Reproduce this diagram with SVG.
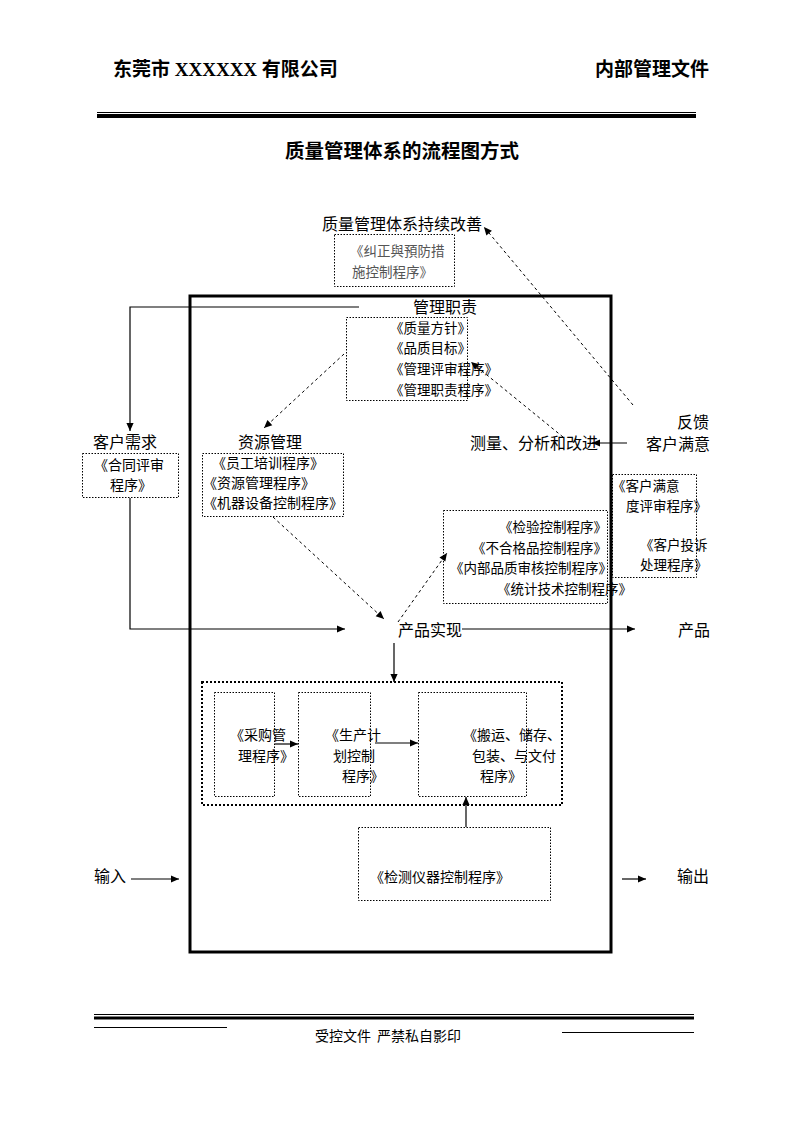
<svg xmlns="http://www.w3.org/2000/svg" width="794" height="1123" viewBox="0 0 794 1123">
<style>
text{font-family:"Noto Sans CJK SC","Liberation Sans",sans-serif;fill:#000}
.hd{font-family:"Liberation Serif","Noto Sans CJK SC",serif;font-weight:bold;font-size:19px}
.t16{font-size:16px}
.t14{font-size:14px}
.t135{font-size:13.5px}
.gray{fill:#555}
.dot{fill:none;stroke:#000;stroke-width:1;stroke-dasharray:1.5 1.5}
.dot2{fill:none;stroke:#000;stroke-width:2;stroke-dasharray:2 2}
.ln{fill:none;stroke:#000;stroke-width:1.2}
.dash{fill:none;stroke:#000;stroke-width:1;stroke-dasharray:3 3}
</style>
<defs>
<marker id="ah" viewBox="0 0 10 10" refX="10" refY="5" markerWidth="9" markerHeight="8" orient="auto" markerUnits="userSpaceOnUse">
<path d="M0,0.5 L10,5 L0,9.5 z" fill="#000"/>
</marker>
</defs>
<rect width="794" height="1123" fill="#fff"/>

<g id="header">
<text class="hd" x="113" y="76">东莞市 XXXXXX 有限公司</text>
<text class="hd" x="709" y="76" text-anchor="end">内部管理文件</text>
<line x1="97" y1="112.5" x2="696" y2="112.5" stroke="#000" stroke-width="1"/>
<line x1="97" y1="116" x2="696" y2="116" stroke="#000" stroke-width="4"/>
<text class="hd" x="402" y="158" text-anchor="middle" style="font-size:19.5px">质量管理体系的流程图方式</text>
</g>

<g id="frame">
<rect x="190" y="296" width="421" height="656" fill="none" stroke="#000" stroke-width="3"/>
</g>

<g id="improve">
<text class="t16" x="322" y="230">质量管理体系持续改善</text>
<rect class="dot" x="334.5" y="234.5" width="120" height="52"/>
<text class="t135 gray" x="350" y="256">《纠正與預防措</text>
<text class="t135 gray" x="352" y="277">施控制程序》</text>
</g>

<g id="mgmt">
<text class="t16" x="413" y="313">管理职责</text>
<rect class="dot" x="346.5" y="317.5" width="121" height="83"/>
<text class="t135" x="390" y="333">《质量方针》</text>
<text class="t135" x="390" y="353">《品质目标》</text>
<text class="t135" x="390" y="374">《管理评审程序》</text>
<text class="t135" x="390" y="395">《管理职责程序》</text>
</g>

<g id="customer-req">
<text class="t16" x="93" y="448">客户需求</text>
<rect class="dot" x="82.5" y="453.5" width="96" height="44"/>
<text class="t14" x="94" y="470">《合同评审</text>
<text class="t14" x="110" y="490">程序》</text>
</g>

<g id="resource">
<text class="t16" x="238" y="448">资源管理</text>
<rect class="dot" x="202.5" y="453.5" width="141" height="63"/>
<text class="t14" x="212" y="468">《员工培训程序》</text>
<text class="t14" x="203" y="488">《资源管理程序》</text>
<text class="t14" x="203" y="508">《机器设备控制程序》</text>
</g>

<g id="measure">
<text class="t16" x="470" y="449">测量、分析和改进</text>
</g>

<g id="feedback">
<text class="t16" x="709" y="428" text-anchor="end">反馈</text>
<text class="t16" x="710" y="450" text-anchor="end">客户满意</text>
</g>

<g id="satisfaction">
<rect class="dot" x="612.5" y="474.5" width="84" height="103"/>
<text class="t135" x="612" y="491">《客户满意</text>
<text class="t135" x="626" y="511">度评审程序》</text>
<text class="t135" x="640" y="550">《客户投诉</text>
<text class="t135" x="640" y="570">处理程序》</text>
</g>

<g id="inspection">
<rect class="dot" x="443.5" y="510.5" width="164" height="93"/>
<text class="t135" x="607" y="532" text-anchor="end">《检验控制程序》</text>
<text class="t135" x="607" y="553" text-anchor="end">《不合格品控制程序》</text>
<text class="t135" x="612" y="573" text-anchor="end">《内部品质审核控制程序》</text>
<text class="t135" x="632" y="594" text-anchor="end">《统计技术控制程序》</text>
</g>

<g id="realize">
<text class="t16" x="398" y="636">产品实现</text>
</g>

<g id="product">
<text class="t16" x="678" y="636">产品</text>
</g>

<g id="process">
<rect class="dot2" x="202" y="682" width="360" height="123"/>
<rect class="dot" x="214.5" y="692.5" width="60" height="104"/>
<rect class="dot" x="298.5" y="692.5" width="72" height="104"/>
<rect class="dot" x="418.5" y="692.5" width="108" height="104"/>
<text class="t14" x="230" y="740">《采购管</text>
<text class="t14" x="238" y="761">理程序》</text>
<text class="t14" x="325" y="740">《生产计</text>
<text class="t14" x="333" y="761">划控制</text>
<text class="t14" x="342" y="781">程序》</text>
<text class="t14" x="463" y="740">《搬运、储存、</text>
<text class="t14" x="472" y="761">包装、与文付</text>
<text class="t14" x="480" y="781">程序》</text>
</g>

<g id="measuring-equip">
<rect class="dot" x="358.5" y="827.5" width="192" height="73"/>
<text class="t14" x="370" y="882">《检测仪器控制程序》</text>
</g>

<g id="io">
<text class="t16" x="94" y="882">输入</text>
<text class="t16" x="677" y="882">输出</text>
</g>

<g id="connectors">
<polyline class="ln" points="359,307 130,307 130,431" marker-end="url(#ah)"/>
<polyline class="ln" points="130,498 130,629 345,629" marker-end="url(#ah)"/>
<line class="ln" x1="462" y1="629" x2="635" y2="629" marker-end="url(#ah)"/>
<line class="ln" x1="394" y1="643" x2="394" y2="682" marker-end="url(#ah)"/>
<line class="ln" x1="275" y1="744" x2="298" y2="744" marker-end="url(#ah)"/>
<line class="ln" x1="375" y1="743" x2="418" y2="743" marker-end="url(#ah)"/>
<line class="ln" x1="466" y1="827" x2="466" y2="797" marker-end="url(#ah)"/>
<line class="ln" x1="627" y1="443" x2="592" y2="443" marker-end="url(#ah)"/>
<line class="ln" x1="131" y1="879" x2="179" y2="879" marker-end="url(#ah)"/>
<line class="ln" x1="622" y1="879" x2="646" y2="879" marker-end="url(#ah)"/>
<line class="dash" x1="633" y1="405" x2="484" y2="227" marker-end="url(#ah)"/>
<line class="dash" x1="344" y1="354" x2="264" y2="428" marker-end="url(#ah)"/>
<line class="dash" x1="563" y1="437" x2="471" y2="362" marker-end="url(#ah)"/>
<line class="dash" x1="273" y1="517" x2="384" y2="619" marker-end="url(#ah)"/>
<line class="dash" x1="398" y1="622" x2="447" y2="553" marker-end="url(#ah)"/>
</g>

<g id="footer">
<line x1="94" y1="1014.5" x2="694" y2="1014.5" stroke="#000" stroke-width="1"/>
<line x1="94" y1="1018" x2="694" y2="1018" stroke="#000" stroke-width="3"/>
<line x1="94" y1="1027.5" x2="227" y2="1027.5" stroke="#000" stroke-width="1"/>
<line x1="562" y1="1032.5" x2="694" y2="1032.5" stroke="#000" stroke-width="1"/>
<text class="t14" x="315" y="1041">受控文件</text>
<text class="t14" x="377" y="1041">严禁私自影印</text>
</g>
</svg>
